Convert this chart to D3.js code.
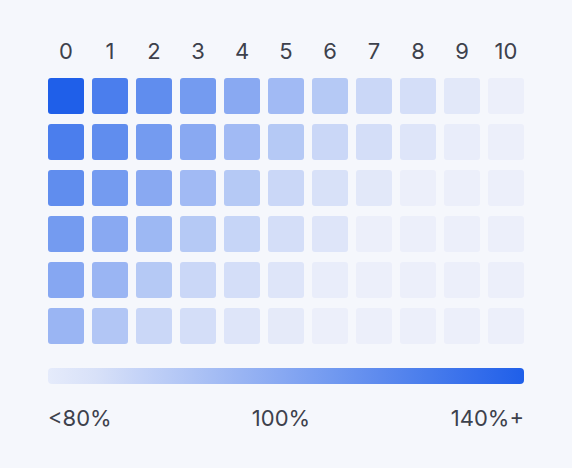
<!DOCTYPE html>
<html><head><meta charset="utf-8">
<script src="https://cdn.jsdelivr.net/npm/d3@7"></script>
<style>
html,body{margin:0;padding:0;background:#f5f7fc;}
svg{display:block;}
text{font-family:Inter,"Noto Sans",sans-serif;fill:#3d414c;}
</style></head>
<body>
<svg id="chart" width="572" height="468"></svg>
<script>
const columns = ["0","1","2","3","4","5","6","7","8","9","10"];
const rows = ["r0","r1","r2","r3","r4","r5"];
const row0 = [140,127,121,115,109,102,96,90,87,83,80];
const row1 = [127,121,115,109,102,96,90,87,84,81,80];
const row2 = [121,115,109,102,96,90,86,83,80,80,80];
const row3 = [115,109,103,96,91,87,84,80,80,80,80];
const row4 = [110,104,96,90,87,84,81,80,80,80,80];
const row5 = [104,97,90,87,84,82,80,80,80,80,80];
const legendLabels = ["<80%","100%","140%+"];
const colorDomain = [80,140];

const matrix = [row0,row1,row2,row3,row4,row5];
const svg = d3.select("#chart");

const x = d3.scaleBand().domain(columns).range([48,524]).paddingInner(8/44).paddingOuter(0);
const y = d3.scaleBand().domain(rows).range([78,344]).paddingInner(10/46).paddingOuter(0);
const color = d3.scaleLinear().domain(colorDomain).range(["#eceffa","#1f5fe9"]).interpolate(d3.interpolateRgb).clamp(true);

const cells = [];
matrix.forEach((vals,ri)=>vals.forEach((v,ci)=>cells.push({r:rows[ri],c:columns[ci],v})));

svg.append("g").selectAll("rect").data(cells).join("rect")
  .attr("x",d=>x(d.c)).attr("y",d=>y(d.r))
  .attr("width",x.bandwidth()).attr("height",y.bandwidth())
  .attr("rx",3).attr("ry",3)
  .attr("fill",d=>color(d.v));

svg.append("g").selectAll("text").data(columns).join("text")
  .attr("x",d=>x(d)+x.bandwidth()/2).attr("y",58.5)
  .attr("text-anchor","middle").attr("font-size",22)
  .text(d=>d);

// legend
const defs = svg.append("defs");
const grad = defs.append("linearGradient").attr("id","lg").attr("x1","0%").attr("x2","100%");
const stops = d3.range(0,1.0001,0.1);
grad.selectAll("stop").data(stops).join("stop")
  .attr("offset",d=>(d*100)+"%")
  .attr("stop-color",d=>color(colorDomain[0]+d*(colorDomain[1]-colorDomain[0])));
grad.select("stop").attr("stop-color","#e5ebfb");

const lx = d3.scalePoint().domain(legendLabels).range([48,524]);
svg.append("rect").attr("x",lx.range()[0]).attr("y",368)
  .attr("width",lx.range()[1]-lx.range()[0]).attr("height",16)
  .attr("rx",4).attr("fill","url(#lg)");

svg.append("g").selectAll("text").data(legendLabels).join("text")
  .attr("x",(d,i)=>lx(d) - (i===1?5:0)).attr("y",425.5)
  .attr("text-anchor",(d,i)=>i===0?"start":i===1?"middle":"end")
  .attr("font-size",22)
  .text(d=>d);
</script>
</body></html>
